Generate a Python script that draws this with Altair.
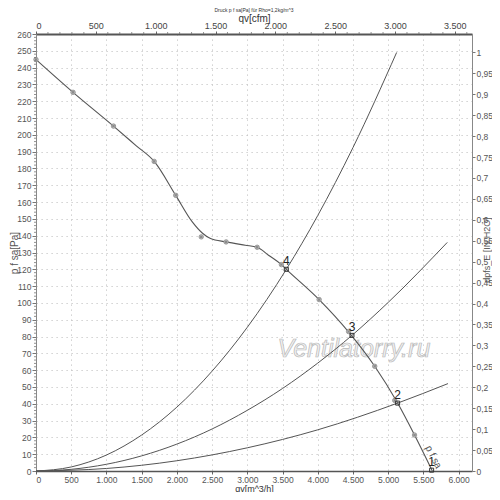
import altair as alt
import pandas as pd

# ---- data ----
fan_q = [0, 526, 1100, 1420, 1678, 1984, 2219, 2360, 2478, 2699, 2971, 3140, 3301, 3484, 3554, 4020, 4443, 4809, 5134, 5374, 5627]
fan_p = [244.8, 225.3, 205.2, 193.6, 184.2, 164, 148.2, 141.6, 138.3, 136.3, 134.3, 133.1, 128.4, 122.8, 120, 102, 82.5, 62.3, 40.4, 21.4, 0]

marker_q = [0, 526, 1100, 1678, 1984, 2346, 2699, 3140, 3484, 4020, 4438, 4809, 5093, 5374]
marker_p = [244.8, 225.3, 205.2, 184.2, 164, 139.3, 136.3, 133.1, 122.8, 102, 83, 62.3, 42, 21.4]

op_label = ["4", "3", "2", "1"]
op_q = [3554, 4486, 5134, 5617]
op_p = [120, 80.7, 40.4, 0.5]

sysA_q = [0, 500, 1000, 1500, 2000, 2500, 3000, 3554, 4000, 4500, 5120]
sysA_p = [0, 2.4, 9.5, 21.4, 38, 59.4, 85.5, 120, 152, 192.4, 249]
sysB_q = [0, 500, 1000, 1500, 2000, 2500, 3000, 3500, 4000, 4486, 5000, 5839]
sysB_p = [0, 1, 4, 9, 16, 25, 36.1, 49.1, 64.2, 80.7, 100.3, 136]
sysC_q = [0, 1000, 2000, 3000, 4000, 5134, 5849]
sysC_p = [0, 1.5, 6.1, 13.8, 24.5, 40.4, 52]

x_ticks = list(range(0, 6001, 500))
y_ticks = list(range(0, 261, 10))
y_minor = [v for v in range(0, 261, 2) if v % 10 != 0]
cfm_ticks = list(range(0, 3501, 500))
cfm_minor = [v for v in range(0, 3601, 100) if v % 500 != 0]
inh2o_ticks = [round(i * 0.05, 2) for i in range(21)]

Q_MAX = 6190
P_MAX = 260
W = 436
H = 437

FONT = "Liberation Sans"
LBL = 8.5
TTL = 9

xs = alt.Scale(domain=[0, Q_MAX], nice=False, zero=False)
ys = alt.Scale(domain=[0, P_MAX], nice=False, zero=False)
cs = alt.Scale(domain=[0, Q_MAX / 1.699], nice=False, zero=False)
hs = alt.Scale(domain=[0, P_MAX / 249.089], nice=False, zero=False)

xaxis = alt.Axis(values=x_ticks, labelExpr="replace(format(datum.value, ','), ',', '.')",
                 title="qv[m^3/h]", grid=True, gridColor="#c4c4c4", gridDash=[1.2, 3.8],
                 domainColor="#555555", domainWidth=1.5, tickColor="#666666", tickSize=3,
                 labelColor="#555555", labelFontSize=LBL, labelFont=FONT, labelPadding=1,
                 titleFont=FONT, titleFontSize=TTL, titleColor="#333333", titleFontWeight="normal",
                 titleY=17, titleBaseline="middle")
yaxis = alt.Axis(values=y_ticks, title="p f sa[Pa]", grid=True, gridColor="#c4c4c4",
                 gridDash=[1.2, 3.8], domainColor="#888888", domainWidth=1, tickColor="#777777",
                 tickSize=4, labelColor="#555555", labelFontSize=LBL, labelFont=FONT, labelPadding=1,
                 titleFont=FONT, titleFontSize=10, titleColor="#555555", titleFontWeight="normal",
                 titleX=-22, titleY=H / 2, titleBaseline="middle", titleAngle=270)

X = alt.X("q:Q", scale=xs, axis=xaxis)
Y = alt.Y("p:Q", scale=ys, axis=yaxis)

fan_df = pd.DataFrame({"q": fan_q, "p": fan_p})
mk_df = pd.DataFrame({"q": marker_q, "p": marker_p})
op_df = pd.DataFrame({"q": op_q, "p": op_p, "label": op_label})
sys_df = pd.concat([
    pd.DataFrame({"q": sysA_q, "p": sysA_p, "c": "A"}),
    pd.DataFrame({"q": sysB_q, "p": sysB_p, "c": "B"}),
    pd.DataFrame({"q": sysC_q, "p": sysC_p, "c": "C"}),
])
minor_df = pd.DataFrame({"p": y_minor})
wm_df = pd.DataFrame({"q": [4513], "p": [72.5], "t": ["Ventilatorry.ru"]})
cl_df = pd.DataFrame({"q": [5642], "p": [8.3], "t": ["p f sa"]})

sys_lines = alt.Chart(sys_df).mark_line(color="#555555", strokeWidth=1, interpolate="monotone").encode(
    x=X, y=Y, detail="c:N")

fan_line = alt.Chart(fan_df).mark_line(color="#555555", strokeWidth=1.1, interpolate="monotone").encode(
    x=X, y=Y)

fan_marks = alt.Chart(mk_df).mark_point(shape="circle", size=20, filled=True, fill="#c2c2c2",
                                        stroke="#8a8a8a", strokeWidth=0.8, opacity=1).encode(x=X, y=Y)
fan_cross = alt.Chart(mk_df).mark_point(shape="cross", size=9, filled=True, fill="#8a8a8a",
                                        opacity=1, angle=45).encode(x=X, y=Y)

op_marks = alt.Chart(op_df).mark_point(shape="square", size=16, filled=False, stroke="#333333",
                                       strokeWidth=1, opacity=1).encode(x=X, y=Y)
op_text = alt.Chart(op_df).mark_text(font=FONT, fontSize=12, color="#222222", dy=-8,
                                     align="center", baseline="middle").encode(x=X, y=Y, text="label:N")

minor_ticks = alt.Chart(minor_df).mark_rule(color="#777777", strokeWidth=0.8).encode(
    x=alt.value(-2), x2=alt.value(0), y=alt.Y("p:Q", scale=ys, axis=yaxis))

watermark = alt.Chart(wm_df).mark_text(font=FONT, fontSize=25, fontStyle="italic", fill="#f2f2f2",
                                       stroke="#b8b8b8", strokeWidth=0.7, align="center",
                                       baseline="middle").encode(x=X, y=Y, text="t:N")

curve_label = alt.Chart(cl_df).mark_text(font=FONT, fontSize=10, color="#555555", angle=63,
                                         align="center", baseline="middle").encode(x=X, y=Y, text="t:N")

main = alt.layer(watermark, sys_lines, fan_line, fan_marks, fan_cross, op_marks, op_text,
                 curve_label, minor_ticks)

cfm_axis = alt.Axis(orient="top", values=cfm_ticks, title="qv[cfm]", grid=False,
                    labelExpr="replace(format(datum.value, ','), ',', '.')",
                    domainColor="#555555", domainWidth=2, tickColor="#666666", tickSize=3,
                    labelColor="#444444", labelFontSize=LBL + 0.5, labelFont=FONT, labelPadding=1,
                    titleFont=FONT, titleFontSize=TTL + 1, titleColor="#333333",
                    titleFontWeight="normal", titleY=-16, titleBaseline="middle")
h2o_axis = alt.Axis(orient="right", values=inh2o_ticks, title="dpfs_E [IN H2O]", grid=False,
                    labelExpr="replace(format(datum.value, '.2~f'), '.', ',')",
                    domainColor="#888888", domainWidth=1, tickColor="#777777", tickSize=3,
                    labelColor="#555555", labelFontSize=LBL, labelFont=FONT, labelPadding=1,
                    titleFont=FONT, titleFontSize=TTL, titleColor="#555555",
                    titleFontWeight="normal", titleAngle=270, titleX=14, titleY=H / 2 - 3,
                    titleBaseline="middle")

sec_df = pd.DataFrame({"cfm": [0], "inh2o": [0]})
sec_point = alt.Chart(sec_df).mark_point(opacity=0).encode(
    x=alt.X("cfm:Q", scale=cs, axis=cfm_axis),
    y=alt.Y("inh2o:Q", scale=hs, axis=h2o_axis),
)
cfm_minor_df = pd.DataFrame({"cfm": cfm_minor})
cfm_minor_ticks = alt.Chart(cfm_minor_df).mark_rule(color="#777777", strokeWidth=0.8).encode(
    x=alt.X("cfm:Q", scale=cs, axis=cfm_axis), y=alt.value(-2), y2=alt.value(0))
secondary = alt.layer(sec_point, cfm_minor_ticks)

chart = alt.layer(main, secondary).resolve_scale(x="independent", y="independent").properties(
    width=W, height=H,
    autosize=alt.AutoSizeParams(type="none"),
    padding={"left": 28, "top": 26, "right": 484 - 28 - W, "bottom": 484 - 26 - H},
    title=alt.TitleParams("Druck p f sa[Pa] für Rho=1,2kg/m^3", fontSize=5, font=FONT,
                          color="#333333", fontWeight="normal", anchor="middle", offset=0),
).configure_view(stroke=None).configure(background="white")

chart.save("out.html", embed_options={"renderer": "svg", "actions": False})
